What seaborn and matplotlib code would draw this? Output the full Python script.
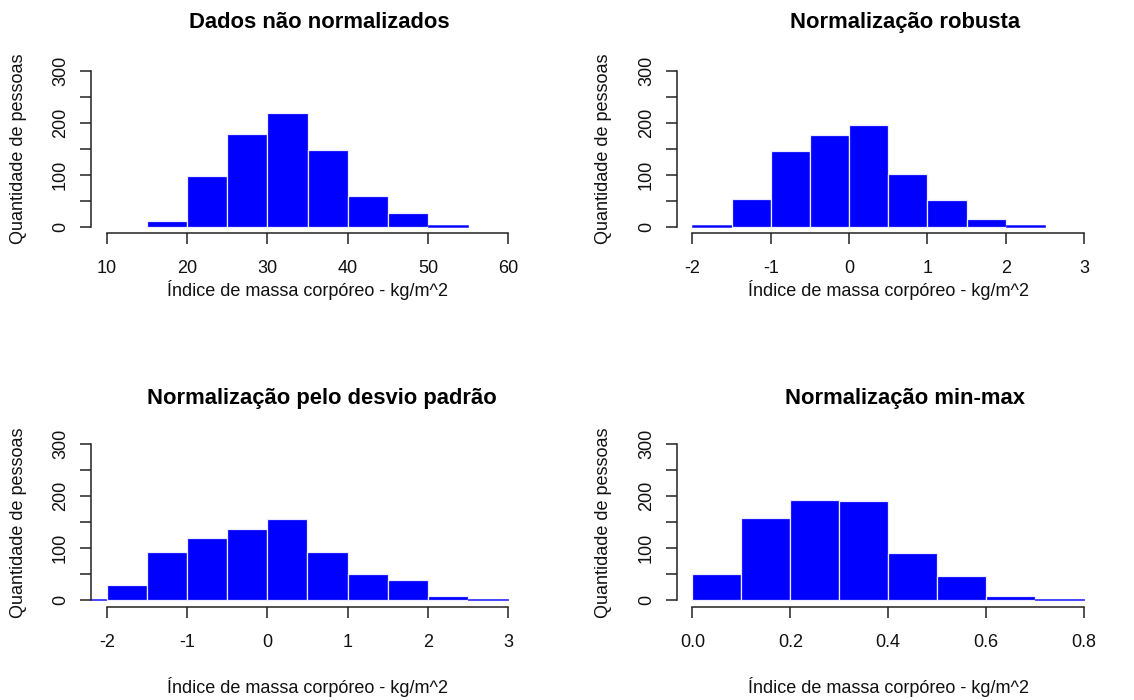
import matplotlib
matplotlib.use("Agg")
import matplotlib.pyplot as plt
import seaborn as sns
import numpy as np
import pandas as pd

# ---------------- data ----------------
titles = ["Dados não normalizados", "Normalização robusta",
          "Normalização pelo desvio padrão", "Normalização min-max"]
xlabel = "Índice de massa corpóreo - kg/m^2"
ylabel = "Quantidade de pessoas"

raw_edges = [15, 20, 25, 30, 35, 40, 45, 50, 55]
raw_counts = [12, 97, 178, 219, 147, 60, 27, 3]

robust_edges = [-2.0, -1.5, -1.0, -0.5, 0.0, 0.5, 1.0, 1.5, 2.0, 2.5]
robust_counts = [3, 53, 145, 176, 195, 101, 51, 15, 3]

std_edges = [-2.5, -2.0, -1.5, -1.0, -0.5, 0.0, 0.5, 1.0, 1.5, 2.0, 2.5, 3.0]
std_counts = [3, 30, 92, 119, 137, 157, 92, 51, 39, 8, 3]

minmax_edges = [0.0, 0.1, 0.2, 0.3, 0.4, 0.5, 0.6, 0.7, 0.8]
minmax_counts = [51, 159, 193, 191, 90, 46, 8, 3]

raw_ticks = [10, 20, 30, 40, 50, 60]
robust_ticks = [-2, -1, 0, 1, 2, 3]
std_ticks = [-2, -1, 0, 1, 2, 3]
minmax_ticks = [0.0, 0.2, 0.4, 0.6, 0.8]
minmax_ticklabels = ["0.0", "0.2", "0.4", "0.6", "0.8"]

y_ticks = [0, 50, 100, 150, 200, 250, 300]
y_ticklabels = ["0", "", "100", "", "200", "", "300"]

# ---------------- style ----------------
sns.set_theme(style="white")
plt.rcParams["font.family"] = ["Liberation Sans", "DejaVu Sans"]
plt.rcParams["axes.unicode_minus"] = False

W, H = 1134, 700
fig = plt.figure(figsize=(W / 100, H / 100), dpi=100)
fig.patch.set_facecolor("white")

def px_axes(left, right, top, bottom):
    return fig.add_axes([left / W, 1 - bottom / H, (right - left) / W, (bottom - top) / H])

panels = [
    dict(edges=raw_edges, counts=raw_counts, ticks=raw_ticks, labels=[str(t) for t in raw_ticks],
         xlim=(8, 62), box=(90.7, 524.3, 64.5, 233.0), title_x=319, title_y=28.3, xl_y=290, yl_x=19),
    dict(edges=robust_edges, counts=robust_counts, ticks=robust_ticks, labels=[str(t) for t in robust_ticks],
         xlim=(-2.2, 3.2), box=(676.7, 1099.7, 64.5, 233.0), title_x=905, title_y=28.3, xl_y=290, yl_x=603),
    dict(edges=std_edges, counts=std_counts, ticks=std_ticks, labels=[str(t) for t in std_ticks],
         xlim=(-2.2, 3.2), box=(90.7, 524.2, 438.1, 606.5), title_x=322, title_y=404.3, xl_y=686.7, yl_x=19),
    dict(edges=minmax_edges, counts=minmax_counts, ticks=minmax_ticks, labels=minmax_ticklabels,
         xlim=(-0.032, 0.832), box=(676.7, 1099.7, 438.1, 606.5), title_x=905, title_y=404.3, xl_y=686.7, yl_x=603),
]

axis_color = "#222222"

for title, p in zip(titles, panels):
    left, right, top, bottom = p["box"]
    ax = px_axes(left, right, top, bottom)
    edges = [float(e) for e in p["edges"]]
    mids = [(a + b) / 2 for a, b in zip(edges[:-1], edges[1:])]
    df = pd.DataFrame({"x": mids, "w": [float(c) for c in p["counts"]]})
    sns.histplot(data=df, x="x", weights="w", bins=edges, ax=ax,
                 color="#0000FF", alpha=1.0, edgecolor="#ECECFF", linewidth=0.9,
                 stat="count")
    # very short bars: keep their thin outline bluish so they stay visible
    for patch in ax.patches:
        if patch.get_height() < 6:
            patch.set_edgecolor("#4A4AFF")
            patch.set_linewidth(0.7)
    ax.set_xlim(*p["xlim"])
    ax.set_ylim(-12, 312)
    ax.set_facecolor("white")
    for s in ["top", "right"]:
        ax.spines[s].set_visible(False)
    ax.spines["left"].set_bounds(0, 300)
    ax.spines["bottom"].set_bounds(p["ticks"][0], p["ticks"][-1])
    for s in ["left", "bottom"]:
        ax.spines[s].set_color(axis_color)
        ax.spines[s].set_linewidth(1.1)
    ax.set_yticks(y_ticks)
    ax.set_yticklabels(y_ticklabels, rotation=90, va="center")
    ax.set_xticks(p["ticks"])
    ax.set_xticklabels(p["labels"])
    ax.tick_params(axis="both", direction="out", length=7.7, width=1.1, color=axis_color,
                   labelsize=13, labelcolor="#111111", left=True, bottom=True)
    ax.tick_params(axis="y", pad=8)
    ax.tick_params(axis="x", pad=12)
    ax.set_ylabel("")
    ax.set_xlabel("")
    ax.grid(False)

    fig.text(((left + right) / 2) / W, 1 - p["xl_y"] / H, xlabel, ha="center", va="center",
             fontsize=13, color="#111111")
    fig.text(p["yl_x"] / W, 1 - ((top + bottom) / 2) / H, ylabel, ha="center", va="center",
             rotation=90, fontsize=13, color="#111111")
    fig.text(p["title_x"] / W, 1 - p["title_y"] / H, title, ha="center", va="baseline",
             fontsize=15.8, fontweight="bold", color="#000000")

fig.savefig("out.png", dpi=100, facecolor="white")
